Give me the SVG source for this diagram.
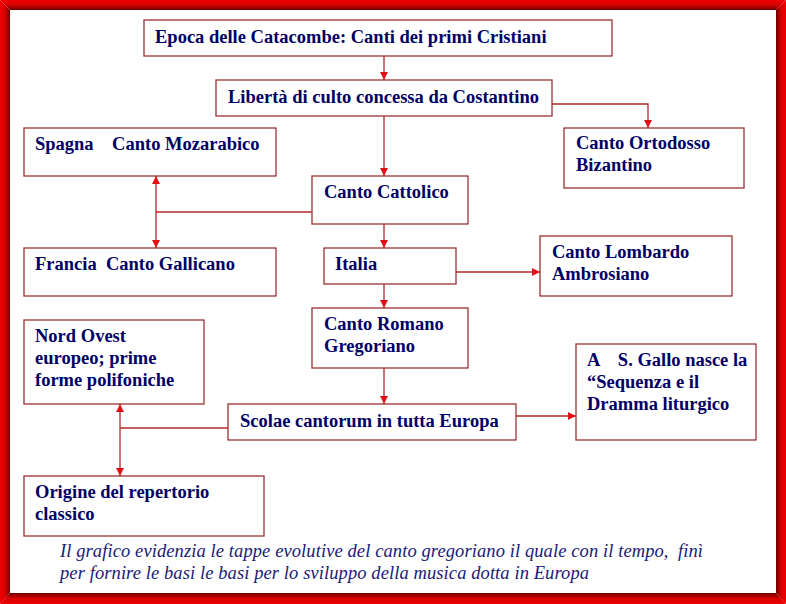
<svg xmlns="http://www.w3.org/2000/svg" width="786" height="604" viewBox="0 0 786 604">
<defs>
<style>
.box{fill:#fff;stroke:#a03030;stroke-width:1.3}
.t{font-family:"Liberation Serif","Times New Roman",serif;font-weight:bold;font-size:18.5px;fill:#000066;white-space:pre}
.c{fill:none;stroke:#b42828;stroke-width:1.3}
.f{font-family:"Liberation Serif","Times New Roman",serif;font-style:italic;font-size:18.5px;fill:#1a1a78;white-space:pre}
</style>
<marker id="ah" viewBox="0 0 10 10" refX="10" refY="5" markerWidth="8" markerHeight="8" markerUnits="userSpaceOnUse" orient="auto-start-reverse">
<path d="M0,0 L10,5 L0,10 z" fill="#e01414"/>
</marker>
<linearGradient id="gT" x1="0" y1="0" x2="0" y2="1"><stop offset="0" stop-color="#f00000"/><stop offset="0.5" stop-color="#d80000"/><stop offset="1" stop-color="#700000"/></linearGradient>
<linearGradient id="gB" x1="0" y1="1" x2="0" y2="0"><stop offset="0" stop-color="#f00000"/><stop offset="0.5" stop-color="#d80000"/><stop offset="1" stop-color="#700000"/></linearGradient>
<linearGradient id="gL" x1="0" y1="0" x2="1" y2="0"><stop offset="0" stop-color="#f00000"/><stop offset="0.5" stop-color="#d80000"/><stop offset="1" stop-color="#700000"/></linearGradient>
<linearGradient id="gR" x1="1" y1="0" x2="0" y2="0"><stop offset="0" stop-color="#f00000"/><stop offset="0.5" stop-color="#d80000"/><stop offset="1" stop-color="#700000"/></linearGradient>
</defs>
<rect width="786" height="604" fill="#fff"/>
<g id="frame">
<polygon points="0,0 786,0 776,10 10,10" fill="url(#gT)"/>
<polygon points="0,604 786,604 776,593 10,593" fill="url(#gB)"/>
<polygon points="0,0 10,10 10,593 0,604" fill="url(#gL)"/>
<polygon points="786,0 776,10 776,593 786,604" fill="url(#gR)"/>
</g>
<g id="connectors">
<path class="c" d="M384,56 V80" marker-end="url(#ah)"/>
<path class="c" d="M552,104 H648 V128" marker-end="url(#ah)"/>
<path class="c" d="M384,116 V176" marker-end="url(#ah)"/>
<path class="c" d="M312,212 H156"/>
<path class="c" d="M156,176 V248" marker-start="url(#ah)" marker-end="url(#ah)"/>
<path class="c" d="M384,224 V248" marker-end="url(#ah)"/>
<path class="c" d="M456,272 H540" marker-end="url(#ah)"/>
<path class="c" d="M384,284 V308" marker-end="url(#ah)"/>
<path class="c" d="M384,368 V404" marker-end="url(#ah)"/>
<path class="c" d="M516,416 H576" marker-end="url(#ah)"/>
<path class="c" d="M228,428 H120"/>
<path class="c" d="M120,404 V476" marker-start="url(#ah)" marker-end="url(#ah)"/>
</g>
<g id="n1"><rect class="box" x="144" y="20" width="468" height="36"/><text class="t" x="155" y="43">Epoca delle Catacombe: Canti dei primi Cristiani</text></g>
<g id="n2"><rect class="box" x="216" y="80" width="336" height="36"/><text class="t" x="228" y="103">Libertà di culto concessa da Costantino</text></g>
<g id="n3"><rect class="box" x="564" y="128" width="180" height="60"/><text class="t" x="576" y="149">Canto Ortodosso</text><text class="t" x="576" y="171">Bizantino</text></g>
<g id="n4"><rect class="box" x="24" y="128" width="252" height="48"/><text class="t" x="35" y="150">Spagna    Canto Mozarabico</text></g>
<g id="n5"><rect class="box" x="312" y="176" width="156" height="48"/><text class="t" x="324" y="198">Canto Cattolico</text></g>
<g id="n6"><rect class="box" x="24" y="248" width="252" height="48"/><text class="t" x="35" y="270">Francia  Canto Gallicano</text></g>
<g id="n7"><rect class="box" x="324" y="248" width="132" height="36"/><text class="t" x="335" y="270">Italia</text></g>
<g id="n8"><rect class="box" x="540" y="236" width="192" height="60"/><text class="t" x="552" y="258">Canto Lombardo</text><text class="t" x="552" y="280">Ambrosiano</text></g>
<g id="n9"><rect class="box" x="312" y="308" width="156" height="60"/><text class="t" x="324" y="330">Canto Romano</text><text class="t" x="324" y="352">Gregoriano</text></g>
<g id="n10"><rect class="box" x="24" y="320" width="180" height="84"/><text class="t" x="35" y="342">Nord Ovest</text><text class="t" x="35" y="364">europeo; prime</text><text class="t" x="35" y="386">forme polifoniche</text></g>
<g id="n11"><rect class="box" x="576" y="344" width="180" height="96"/><text class="t" x="587" y="366">A    S. Gallo nasce la</text><text class="t" x="587" y="388">“Sequenza e il</text><text class="t" x="587" y="410">Dramma liturgico</text></g>
<g id="n12"><rect class="box" x="228" y="404" width="288" height="36"/><text class="t" x="240" y="427">Scolae cantorum in tutta Europa</text></g>
<g id="n13"><rect class="box" x="24" y="476" width="240" height="60"/><text class="t" x="35" y="498">Origine del repertorio</text><text class="t" x="35" y="520">classico</text></g>
<g id="caption">
<text class="f" x="60" y="557" textLength="643" lengthAdjust="spacing">Il grafico evidenzia le tappe evolutive del canto gregoriano il quale con il tempo,  finì</text>
<text class="f" x="60" y="579" textLength="529" lengthAdjust="spacing">per fornire le basi le basi per lo sviluppo della musica dotta in Europa</text>
</g>
</svg>
